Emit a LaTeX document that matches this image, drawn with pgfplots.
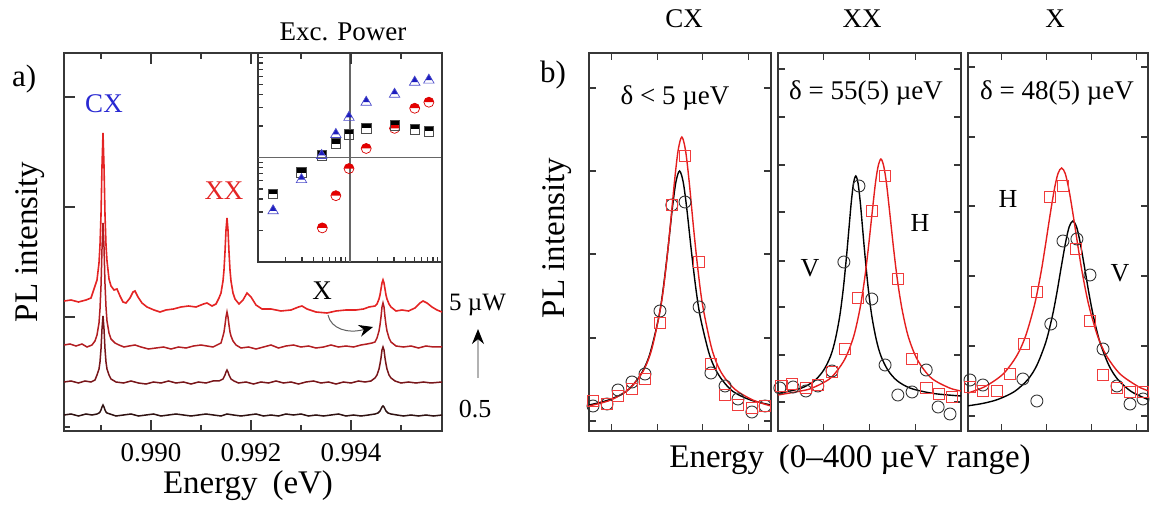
\documentclass[border=0pt]{standalone}
\usepackage{fontspec}
\setmainfont{Liberation Serif}
\usepackage{pgfplots}
\pgfplotsset{compat=1.18}
\usetikzlibrary{arrows.meta,plotmarks}

\definecolor{axgray}{RGB}{55,55,55}
\definecolor{trA}{RGB}{228,36,36}
\definecolor{trB}{RGB}{178,30,34}
\definecolor{trC}{RGB}{120,22,26}
\definecolor{trD}{RGB}{48,18,18}
\definecolor{lorred}{RGB}{228,30,30}
\definecolor{sqred}{RGB}{240,60,60}
\definecolor{mkblue}{RGB}{30,30,190}
\definecolor{lblblue}{RGB}{40,40,210}

\newcommand{\fs}[1]{\fontsize{#1pt}{#1pt}\selectfont}

% marks with the upper part filled and the lower part open
\pgfdeclareplotmark{uhcirc}{%
  \pgfpathmoveto{\pgfqpoint{\pgfplotmarksize}{0pt}}%
  \pgfpatharc{0}{180}{\pgfplotmarksize}%
  \pgfpathclose
  \pgfusepathqfill
  \pgfpathcircle{\pgfpointorigin}{\pgfplotmarksize}%
  \pgfusepathqstroke
}
\pgfdeclareplotmark{uhsq}{%
  \pgfpathrectangle{\pgfqpoint{-\pgfplotmarksize}{0pt}}{\pgfqpoint{2\pgfplotmarksize}{\pgfplotmarksize}}%
  \pgfusepathqfill
  \pgfpathrectangle{\pgfqpoint{-\pgfplotmarksize}{-\pgfplotmarksize}}{\pgfqpoint{2\pgfplotmarksize}{2\pgfplotmarksize}}%
  \pgfusepathqstroke
}
\pgfdeclareplotmark{uhtri}{%
  \pgfpathmoveto{\pgfqpoint{0pt}{\pgfplotmarksize}}%
  \pgfpathlineto{\pgfqpoint{-0.577\pgfplotmarksize}{0pt}}%
  \pgfpathlineto{\pgfqpoint{0.577\pgfplotmarksize}{0pt}}%
  \pgfpathclose
  \pgfusepathqfill
  \pgfpathmoveto{\pgfqpoint{0pt}{\pgfplotmarksize}}%
  \pgfpathlineto{\pgfqpoint{-0.866\pgfplotmarksize}{-0.5\pgfplotmarksize}}%
  \pgfpathlineto{\pgfqpoint{0.866\pgfplotmarksize}{-0.5\pgfplotmarksize}}%
  \pgfpathclose
  \pgfusepathqstroke
}

\pgfplotsset{
  boxaxis/.style={
    scale only axis, anchor=south west,
    axis line style={draw=axgray, line width=1.5pt},
    every tick/.style={draw=axgray, line width=1.3pt},
    tick align=inside,
    xticklabels={}, yticklabels={},
    clip=true,
  },
  bpanel/.style={
    boxaxis, height=378pt, xmin=0, xmax=400, ymin=0, ymax=378,
    major tick length=7pt,
  },
  blackfit/.style={black, line width=1.4pt, smooth, no marks},
  redfit/.style={lorred, line width=1.4pt, smooth, no marks},
  ptcirc/.style={only marks, mark=o, mark size=6pt, mark options={draw=black!80, line width=0.9pt, fill=none}},
  ptsq/.style={only marks, mark=square, mark size=5.8pt, mark options={draw=sqred, line width=0.9pt, fill=none}},
}

\begin{document}
\begin{tikzpicture}[x=1pt,y=1pt]
\useasboundingbox (0,0) rectangle (1150,510);

% ---------- inset: integrated intensity vs excitation power (log-log)
\begin{axis}[boxaxis, at={(258pt,248pt)}, width=184pt, height=209pt,
  xmode=log, ymode=log, xmin=0.1, xmax=10, ymin=0.1, ymax=10,
  xtick={0.1,1,10}, ytick={0.1,1,10},
  axis background/.style={fill=white},
  major tick length=9pt, minor tick length=5pt,
  xtick pos=left, ytick pos=left]
\draw[gray!80!black, line width=1.4pt] (axis cs:1,0.1) -- (axis cs:1,10);
\draw[gray!80!black, line width=1.4pt] (axis cs:0.1,1) -- (axis cs:10,1);
% XX (red)
\addplot[only marks, mark=uhcirc, mark size=5pt, mark options={draw=red!85!black, fill=red!90!black, line width=0.7pt}]
  coordinates {(0.5,0.212) (0.702,0.431) (0.975,0.784) (1.50,1.22) (3.05,1.90) (5.05,2.96) (7.2,3.38)};
% X (black)
\addplot[only marks, mark=uhsq, mark size=4.7pt, mark options={draw=black!70, fill=black, line width=0.7pt}]
  coordinates {(0.146,0.451) (0.297,0.718) (0.492,1.045) (0.702,1.36) (0.975,1.66) (1.50,1.90) (3.05,2.03) (5.05,1.86) (7.2,1.78)};
% CX (blue)
\addplot[only marks, mark=uhtri, mark size=6pt, mark options={draw=mkblue!80, fill=mkblue, line width=0.7pt}]
  coordinates {(0.146,0.309) (0.297,0.614) (0.492,1.045) (0.702,1.66) (0.975,2.42) (1.50,3.38) (3.05,4.03) (5.05,5.26) (7.2,5.50)};
\end{axis}

% ---------- panel a: PL spectra at increasing excitation power
\begin{axis}[boxaxis, at={(64pt,79pt)}, width=378pt, height=378pt,
  xmin=0.98826, xmax=0.99582, ymin=0, ymax=378,
  xtick={0.990,0.992,0.994}, minor xtick={0.989,0.991,0.993,0.995},
  xticklabels={\rmfamily 0.990,\rmfamily 0.992,\rmfamily 0.994},
  ytick={114,224,334}, minor ytick={4},
  ytick pos=left, xtick pos=both,
  major tick length=11pt, minor tick length=6pt,
  xticklabel style={font=\rmfamily\fs{27}, yshift=-9pt},
  /pgf/number format/assume math mode=true]
% 0.5 uW
\addplot[trD, line width=1.5pt] coordinates {
(0.98826,16) (0.98840,17) (0.98855,15) (0.98870,17) (0.98882,16) (0.98892,17) (0.98896,18) (0.98898,19) (0.98900,21) (0.98902,24) (0.98904,26) (0.98906,24) (0.98908,21) (0.98910,19) (0.98912,18) (0.98918,17) (0.98930,15) (0.98945,16) (0.98960,17) (0.98975,15) (0.98990,16) (0.99005,17) (0.99020,15) (0.99035,16) (0.99050,17) (0.99065,16) (0.99080,15) (0.99095,16) (0.99110,17) (0.99125,16) (0.99140,15) (0.99152,17) (0.99165,16) (0.99180,15) (0.99195,16) (0.99210,17) (0.99225,15) (0.99240,16) (0.99255,15) (0.99270,17) (0.99285,16) (0.99300,17) (0.99315,15) (0.99330,16) (0.99345,15) (0.99360,16) (0.99375,17) (0.99390,15) (0.99405,16) (0.99420,15) (0.99435,16) (0.99448,17) (0.99454,18) (0.99458,20) (0.99460,22) (0.99462,24) (0.99464,25) (0.99466,24) (0.99468,22) (0.99470,20) (0.99474,18) (0.99480,17) (0.99492,16) (0.99505,15) (0.99520,16) (0.99535,15) (0.99550,16) (0.99565,15) (0.99582,16)};
\addplot[trC, line width=1.5pt] coordinates {
(0.98826,49) (0.98840,50) (0.98855,48) (0.98868,50) (0.98880,49) (0.98888,51) (0.98892,56) (0.98896,62) (0.98898,69) (0.98900,82) (0.98902,102) (0.98904,115) (0.98906,102) (0.98908,82) (0.98910,69) (0.98912,62) (0.98916,56) (0.98920,52) (0.98930,49) (0.98945,48) (0.98960,50) (0.98975,48) (0.98990,47) (0.99005,49) (0.99020,48) (0.99035,50) (0.99050,48) (0.99065,49) (0.99080,47) (0.99095,49) (0.99110,48) (0.99124,50) (0.99136,50) (0.99144,52) (0.99146,54) (0.99148,56) (0.99150,59) (0.99152,61) (0.99154,59) (0.99156,56) (0.99158,54) (0.99160,52) (0.99166,50) (0.99175,48) (0.99190,49) (0.99205,47) (0.99220,49) (0.99235,48) (0.99250,50) (0.99265,48) (0.99280,49) (0.99295,47) (0.99310,49) (0.99325,50) (0.99340,48) (0.99355,49) (0.99370,47) (0.99385,49) (0.99400,48) (0.99415,50) (0.99428,49) (0.99440,50) (0.99448,53) (0.99452,56) (0.99456,62) (0.99458,67) (0.99460,73) (0.99462,81) (0.99464,84) (0.99466,81) (0.99468,73) (0.99470,67) (0.99472,62) (0.99476,56) (0.99480,53) (0.99488,50) (0.99500,48) (0.99515,49) (0.99530,48) (0.99545,49) (0.99560,48) (0.99582,49)};
\addplot[trB, line width=1.5pt] coordinates {
(0.98826,86) (0.98838,87) (0.98850,85) (0.98862,87) (0.98872,84) (0.98882,86) (0.98888,90) (0.98892,96) (0.98896,108) (0.98898,122) (0.98900,145) (0.98902,182) (0.98904,208) (0.98906,184) (0.98908,147) (0.98910,124) (0.98912,110) (0.98916,98) (0.98920,92) (0.98928,88) (0.98936,86) (0.98946,84) (0.98956,85) (0.98968,86) (0.98980,84) (0.98995,82) (0.99010,83) (0.99025,84) (0.99040,82) (0.99055,84) (0.99070,83) (0.99085,85) (0.99100,86) (0.99112,85) (0.99124,84) (0.99132,86) (0.99140,88) (0.99144,95) (0.99146,99) (0.99148,106) (0.99150,114) (0.99152,119) (0.99154,114) (0.99156,106) (0.99158,99) (0.99160,95) (0.99164,90) (0.99170,86) (0.99180,83) (0.99195,84) (0.99210,82) (0.99225,84) (0.99240,86) (0.99255,83) (0.99270,85) (0.99285,86) (0.99300,84) (0.99315,85) (0.99330,83) (0.99345,84) (0.99360,86) (0.99375,84) (0.99390,85) (0.99405,84) (0.99420,86) (0.99432,87) (0.99442,88) (0.99448,89) (0.99452,93) (0.99456,100) (0.99458,106) (0.99460,114) (0.99462,124) (0.99464,128) (0.99466,124) (0.99468,114) (0.99470,106) (0.99472,100) (0.99476,93) (0.99480,89) (0.99490,85) (0.99505,84) (0.99520,85) (0.99535,83) (0.99550,85) (0.99565,84) (0.99582,84)};
% 5 uW
\addplot[trA, line width=1.6pt] coordinates {
(0.98826,130) (0.98840,131) (0.98855,129) (0.98870,131) (0.98880,133) (0.98888,145) (0.98892,151) (0.98896,168) (0.98898,186) (0.98900,216) (0.98902,265) (0.98904,298) (0.98906,265) (0.98908,216) (0.98910,186) (0.98912,170) (0.98916,152) (0.98920,145) (0.98926,141) (0.98932,142) (0.98938,135) (0.98944,129) (0.98950,128) (0.98958,133) (0.98964,139) (0.98968,140) (0.98974,134) (0.98982,128) (0.98992,124) (0.99006,121) (0.99018,119) (0.99030,121) (0.99045,122) (0.99060,124) (0.99075,125) (0.99090,124) (0.99105,127) (0.99112,128) (0.99122,125) (0.99130,127) (0.99136,133) (0.99140,138) (0.99144,150) (0.99146,161) (0.99148,179) (0.99150,201) (0.99152,213) (0.99154,201) (0.99156,179) (0.99158,161) (0.99160,150) (0.99164,138) (0.99168,132) (0.99176,127) (0.99184,131) (0.99192,138) (0.99200,134) (0.99210,126) (0.99222,122) (0.99240,122) (0.99260,120) (0.99280,121) (0.99295,124) (0.99302,125) (0.99312,122) (0.99330,119) (0.99352,118) (0.99370,120) (0.99390,121) (0.99410,121) (0.99425,122) (0.99436,124) (0.99448,125) (0.99452,127) (0.99456,132) (0.99458,136) (0.99460,142) (0.99462,148) (0.99464,151) (0.99466,148) (0.99468,142) (0.99470,136) (0.99472,132) (0.99476,127) (0.99480,124) (0.99490,120) (0.99502,121) (0.99515,120) (0.99528,123) (0.99538,128) (0.99544,130) (0.99552,128) (0.99562,124) (0.99572,121) (0.99582,119)};
\end{axis}

% panel a annotations
\node[inner sep=0, anchor=base west, font=\fs{31}] at (12,423) {a)};
\node[inner sep=0, anchor=base, rotate=90, font=\fs{33}] at (37,268) {PL intensity};
\node[inner sep=0, anchor=base, font=\fs{33}] at (248,16) {Energy\hspace{0.45em}(eV)};
\node[inner sep=0, anchor=base, font=\fs{27}, text=lblblue] at (104,397) {CX};
\node[inner sep=0, anchor=base, font=\fs{27}, text=trA] at (224,310) {XX};
\node[inner sep=0, anchor=base, font=\fs{27}] at (322,210) {X};
\node[inner sep=0, anchor=base, font=\fs{27}] at (343,469) {Exc. Power};
\draw[gray!75!black, line width=1pt, -{Stealth[black, length=14pt, width=12pt]}]
  (328,195) .. controls (331,181) and (348,176) .. (373,183);
\node[inner sep=0, anchor=base west, font=\fs{25}] at (449,199) {5 µW};
\draw[gray!60, line width=1.3pt, -{Stealth[black, length=15pt, width=12pt]}] (478,132) -- (478,181);
\node[inner sep=0, anchor=base, font=\fs{26}] at (475,92) {0.5};

% ---------- panel b: polarization-resolved lines
% CX
\begin{axis}[bpanel, at={(589pt,79pt)}, width=182pt,
  xtick={50,150,250,350}, ytick={10,93,177,260,343}]
\addplot[blackfit] coordinates {(0,26) (43,31) (83,40) (113,56) (133,76) (153,113) (163,142) (173,180) (183,222) (191,249) (199,260) (207,249) (215,222) (225,180) (235,142) (245,113) (265,76) (285,56) (315,40) (355,31) (400,26)};
\addplot[redfit] coordinates {(0,25) (48,31) (88,42) (118,59) (138,82) (158,125) (168,159) (178,202) (188,250) (196,281) (204,294) (212,281) (220,250) (230,202) (240,159) (250,125) (270,82) (290,59) (320,42) (360,31) (400,25)};
\addplot[ptcirc] coordinates {(8.8,25) (39.6,27) (63.7,41) (94.5,49) (123,57) (156,120) (182,226) (211,229) (242,124) (268,58) (299,45) (327.5,32) (358,19) (387,25)};
\addplot[ptsq] coordinates {(8.8,30) (39.6,27) (63.7,35) (94.5,42) (123,52) (156,108) (182,226) (211,275) (242,169) (268,67) (299,36) (327.5,26) (358,23) (387,25)};
\end{axis}
% XX
\begin{axis}[bpanel, at={(778pt,79pt)}, width=183pt,
  xtick={100,200,300}, ytick={29,76,124,170,219,266,314,362}]
\addplot[blackfit] coordinates {(0,37.5) (50,42.7) (80,50.4) (100,61) (115,75) (125,91) (135,115) (143,143.5) (150,176) (155,202) (160,228) (165,247.6) (170,255) (175,247.6) (180,228) (185,202) (190,176) (197,143.5) (205,115) (215,91) (225,75) (240,61) (260,50.4) (290,42.7) (340,37.5) (400,35)};
\addplot[redfit] coordinates {(0,36) (50,40) (75,43) (115,53) (145,71) (165,94) (179,122) (189,151) (197,181) (205,215) (213,248) (219,265) (225,272) (231,265) (237,248) (245,215) (253,181) (261,151) (271,122) (285,94) (305,71) (335,53) (375,43) (400,40)};
\addplot[ptcirc] coordinates {(4,43) (33,44) (61,40) (87,45) (118,60) (144,169) (177,245) (205,132) (234,66) (262,36) (293,39) (324,61) (350,24) (376,17)};
\addplot[ptsq] coordinates {(8,45) (30.6,47) (61,43) (87,46) (118,59) (146,82) (175,133) (205,220) (234,255) (262,152) (293,72) (324,43) (352,37) (380,34)};
\end{axis}
% X
\begin{axis}[bpanel, at={(968pt,79pt)}, width=180pt,
  xtick={75,175,275,375}, ytick={15,85,155,225,294,364}]
\addplot[blackfit] coordinates {(0,25.2) (33,27.6) (66,31.5) (103,39.4) (133,51.5) (153,65.7) (173,89) (187,114) (197,137) (207,163.5) (217,189) (225,204.4) (233,210) (241,204.4) (249,189) (259,163.5) (269,137) (279,114) (293,89) (313,65.7) (333,51.5) (363,39.4) (400,31.5)};
\addplot[redfit] coordinates {(0,38) (38,44.5) (78,57) (108,75) (128,95) (148,126.5) (162,158) (172,185.6) (182,215) (192,242) (200,257.5) (208,263) (216,257.5) (224,242) (234,215) (244,185.6) (254,158) (268,126.5) (288,95) (308,75) (338,57) (378,44.5) (400,40.3)};
\addplot[ptcirc] coordinates {(4.4,51) (33,46) (122,52) (153,30) (184,107) (211,190) (242,192) (271,156) (300,82) (331,45) (360,27) (389,32)};
\addplot[ptsq] coordinates {(4.4,44) (33,40) (64,40) (93,57) (124,87) (153,139) (182,234) (211,245) (240,182) (271,110) (300,56) (331,43) (360,39) (389,39)};
\end{axis}

% panel b annotations
\node[inner sep=0, anchor=base west, font=\fs{31}] at (540,427) {b)};
\node[inner sep=0, anchor=base, rotate=90, font=\fs{33}] at (564,272) {PL intensity};
\node[inner sep=0, anchor=base, font=\fs{33}] at (850,42) {Energy\hspace{0.45em}(0–400 µeV range)};
\node[inner sep=0, anchor=base, font=\fs{27}] at (684,482) {CX};
\node[inner sep=0, anchor=base, font=\fs{27}] at (862,482) {XX};
\node[inner sep=0, anchor=base, font=\fs{27}] at (1055,482) {X};
\node[inner sep=0, anchor=base, font=\fs{27}] at (675,405) {δ < 5 µeV};
\node[inner sep=0, anchor=base, font=\fs{27}] at (866,410) {δ = 55(5) µeV};
\node[inner sep=0, anchor=base, font=\fs{27}] at (1057,410) {δ = 48(5) µeV};
\node[inner sep=0, anchor=base, font=\fs{26}] at (810,233) {V};
\node[inner sep=0, anchor=base, font=\fs{26}] at (920,278) {H};
\node[inner sep=0, anchor=base, font=\fs{26}] at (1008,302) {H};
\node[inner sep=0, anchor=base, font=\fs{26}] at (1120,228) {V};
\end{tikzpicture}
\end{document}
